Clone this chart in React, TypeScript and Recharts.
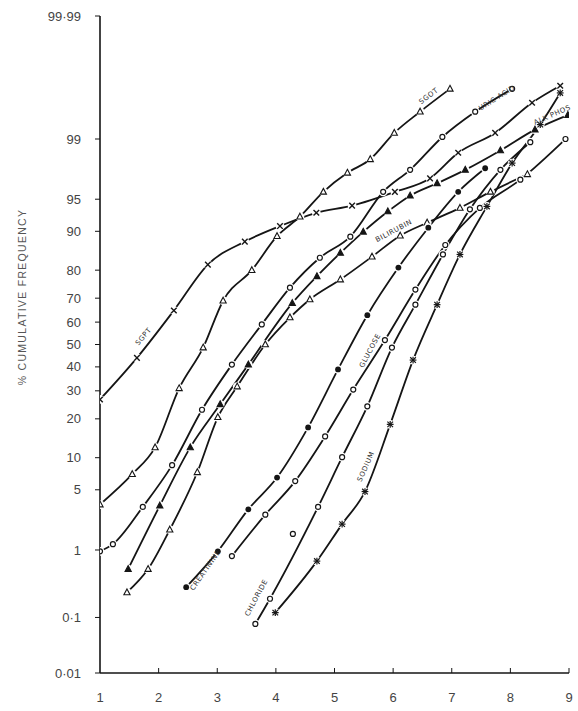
import { ComposedChart, Line, XAxis, YAxis, ReferenceDot } from "recharts";

// x value, % cumulative frequency
const SGPT = [[1.0, 26.7], [1.63, 44], [2.26, 65], [2.84, 81.7], [3.47, 87.8], [4.07, 91], [4.69, 93.2], [5.3, 94.2], [6.03, 95.8], [6.63, 97.0], [7.11, 98.5], [7.74, 99.17], [8.37, 99.69], [8.85, 99.83]];
const SGOT = [[1.0, 3.5], [1.55, 7.1], [1.94, 12.2], [2.35, 31], [2.76, 48.6], [3.1, 69], [3.59, 80], [4.02, 89], [4.41, 92.6], [4.81, 95.8], [5.22, 97.4], [5.61, 98.2], [6.02, 99.17], [6.46, 99.58], [6.97, 99.81]];
const URIC_ACID = [[1.0, 0.96], [1.22, 1.19], [1.73, 3.3], [2.23, 8.6], [2.74, 23], [3.25, 41], [3.76, 59], [4.24, 74], [4.75, 83.7], [5.27, 88.9], [5.83, 95.8], [6.29, 97.6], [6.84, 99.06], [7.4, 99.58], [8.03, 99.81]];
const ALK_PHOS = [[1.48, 0.55], [2.02, 3.4], [2.54, 12.2], [3.05, 24.9], [3.53, 41], [4.28, 68], [4.7, 78], [5.1, 85], [5.49, 89.9], [5.91, 93.4], [6.29, 95.4], [6.75, 96.6], [7.23, 97.6], [7.83, 98.6], [8.42, 99.25], [8.98, 99.53]];
const BILIRUBIN = [[1.46, 0.25], [1.82, 0.55], [2.19, 1.8], [2.66, 7.4], [3.01, 20.5], [3.34, 31.7], [3.82, 50], [4.24, 62], [4.58, 69.5], [5.1, 76.9], [5.64, 84], [6.12, 89.1], [6.58, 91.6], [7.14, 93.9], [7.66, 95.8], [8.29, 97.3]];
const CREATININE = [[2.47, 0.3], [3.01, 0.96], [3.53, 3.1], [4.02, 6.6], [4.55, 17.4], [5.06, 38.9], [5.56, 63], [6.09, 80.8], [6.6, 90.7], [7.11, 95.8], [7.57, 97.7]];
const GLUCOSE = [[3.25, 0.83], [3.82, 2.7], [4.33, 6.1], [4.84, 14.9], [5.32, 30.5], [5.86, 52], [6.38, 73.3], [6.89, 87], [7.48, 93.9], [8.17, 96.9], [8.94, 99.0]];
const CHLORIDE = [[3.65, 0.078], [3.9, 0.2], [4.72, 3.3], [5.13, 10.1], [5.56, 24.2], [5.98, 48.6], [6.38, 67.4], [6.85, 84.6], [7.31, 93.7], [7.83, 97.6], [8.34, 98.9]];
const SODIUM = [[3.99, 0.12], [4.7, 0.71], [5.13, 2.1], [5.52, 4.8], [5.95, 18.3], [6.34, 43], [6.75, 67.4], [7.14, 84.6], [7.6, 94.1], [8.03, 98.0], [8.51, 99.36], [8.85, 99.78]];
const STRAY_POINT = [[4.29, 1.6]];

const X_TICKS = [1, 2, 3, 4, 5, 6, 7, 8, 9];
const Y_TICKS = [0.01, 0.1, 1, 5, 10, 20, 30, 40, 50, 60, 70, 80, 90, 95, 99, 99.99];
const Y_TICK_LABELS = ["0·01", "0·1", "1", "5", "10", "20", "30", "40", "50", "60", "70", "80", "90", "95", "99", "99·99"];

const CURVES = [
  { name: "sgpt", data: SGPT, marker: "cross" },
  { name: "sgot", data: SGOT, marker: "tri" },
  { name: "uric", data: URIC_ACID, marker: "circle" },
  { name: "alk", data: ALK_PHOS, marker: "triFill" },
  { name: "bili", data: BILIRUBIN, marker: "tri" },
  { name: "creat", data: CREATININE, marker: "dot" },
  { name: "gluc", data: GLUCOSE, marker: "circle" },
  { name: "chlor", data: CHLORIDE, marker: "circle" },
  { name: "sodium", data: SODIUM, marker: "star" },
  { name: "stray", data: STRAY_POINT, marker: "circle" },
];

// curve labels: text, x value, %, rotation
const CURVE_LABELS = [
  { text: "SGPT", x: 1.77, p: 53, angle: -50 },
  { text: "SGOT", x: 6.63, p: 99.74, angle: -38 },
  { text: "URIC ACID", x: 7.79, p: 99.72, angle: -32 },
  { text: "ALK PHOS", x: 8.73, p: 99.5, angle: -24 },
  { text: "BILIRUBIN", x: 6.03, p: 89.7, angle: -28 },
  { text: "GLUCOSE", x: 5.64, p: 46.8, angle: -62 },
  { text: "SODIUM", x: 5.57, p: 8.2, angle: -66 },
  { text: "CHLORIDE", x: 3.7, p: 0.2, angle: -62 },
  { text: "CREATININE", x: 2.83, p: 0.51, angle: -55 },
];

// inverse normal CDF (Acklam) -> probability-paper scale
function probit(p: number): number {
  const a = [-39.69683028665376, 220.9460984245205, -275.9285104469687, 138.357751867269, -30.66479806614716, 2.506628277459239];
  const b = [-54.47609879822406, 161.5858368580409, -155.6989798598866, 66.80131188771972, -13.28068155288572];
  const c = [-0.007784894002430293, -0.3223964580411365, -2.400758277161838, -2.549732539343734, 4.374664141464968, 2.938163982698783];
  const d = [0.007784695709041462, 0.3224671290700398, 2.445134137142996, 3.754408661907416];
  const plow = 0.02425;
  if (p < plow) {
    const q = Math.sqrt(-2 * Math.log(p));
    return (((((c[0] * q + c[1]) * q + c[2]) * q + c[3]) * q + c[4]) * q + c[5]) / ((((d[0] * q + d[1]) * q + d[2]) * q + d[3]) * q + 1);
  }
  if (p <= 1 - plow) {
    const q = p - 0.5;
    const r = q * q;
    return ((((((a[0] * r + a[1]) * r + a[2]) * r + a[3]) * r + a[4]) * r + a[5]) * q) / (((((b[0] * r + b[1]) * r + b[2]) * r + b[3]) * r + b[4]) * r + 1);
  }
  const q = Math.sqrt(-2 * Math.log(1 - p));
  return -(((((c[0] * q + c[1]) * q + c[2]) * q + c[3]) * q + c[4]) * q + c[5]) / ((((d[0] * q + d[1]) * q + d[2]) * q + d[3]) * q + 1);
}

const Z_MIN = probit(0.0001);
const Z_MAX = probit(0.9999);
const Y_TICK_Z = Y_TICKS.map((p) => probit(p / 100));

const INK = "#151515";

function Marker({ cx, cy, kind }: { cx: number; cy: number; kind: string }) {
  if (cx == null || cy == null) return null;
  // white halo breaks the line around each marker, like the hand-drawn original
  const halo = <circle cx={cx} cy={cy} r={4.4} fill="#fff" stroke="none" />;
  switch (kind) {
    case "circle":
      return (
        <g>
          {halo}
          <circle cx={cx} cy={cy} r={2.5} fill="#fff" stroke={INK} strokeWidth={1.2} />
        </g>
      );
    case "dot":
      return (
        <g>
          {halo}
          <circle cx={cx} cy={cy} r={2.9} fill={INK} />
        </g>
      );
    case "tri":
    case "triFill":
      return (
        <g>
          {halo}
          <polygon
            points={`${cx},${cy - 3.5} ${cx + 3.1},${cy + 2.3} ${cx - 3.1},${cy + 2.3}`}
            fill={kind === "tri" ? "#fff" : INK}
            stroke={INK}
            strokeWidth={1.1}
          />
        </g>
      );
    case "cross":
      return (
        <g>
          {halo}
          <g stroke={INK} strokeWidth={1.4}>
            <line x1={cx - 2.8} y1={cy - 2.8} x2={cx + 2.8} y2={cy + 2.8} />
            <line x1={cx - 2.8} y1={cy + 2.8} x2={cx + 2.8} y2={cy - 2.8} />
          </g>
        </g>
      );
    default:
      return (
        <g>
          {halo}
          <g stroke={INK} strokeWidth={1.2}>
            <line x1={cx - 2.8} y1={cy - 2.8} x2={cx + 2.8} y2={cy + 2.8} />
            <line x1={cx - 2.8} y1={cy + 2.8} x2={cx + 2.8} y2={cy - 2.8} />
            <line x1={cx - 3.4} y1={cy} x2={cx + 3.4} y2={cy} />
            <line x1={cx} y1={cy - 3.4} x2={cx} y2={cy + 3.4} />
          </g>
        </g>
      );
  }
}

function XTick(props: any) {
  const { x, y, payload } = props;
  return (
    <g>
      {payload.value !== 1 && <line x1={x} y1={y - 2} x2={x} y2={y - 7} stroke={INK} strokeWidth={1} />}
      <text x={x} y={y + 27} textAnchor="middle" fontSize={13} fill="#444" fontFamily="Liberation Sans, Arial, sans-serif">
        {payload.value}
      </text>
    </g>
  );
}

function YTitle() {
  return (
    <text
      x={26}
      y={297}
      transform="rotate(-90 26 297)"
      textAnchor="middle"
      fontSize={10.5}
      letterSpacing={1.3}
      fill="#555"
      fontFamily="Liberation Sans, Arial, sans-serif"
    >
      % CUMULATIVE FREQUENCY
    </text>
  );
}

export default function App() {
  return (
    <div style={{ position: "absolute", left: 0, top: 0, width: 578, height: 711, background: "#fff" }}>
      <ComposedChart width={578} height={711} margin={{ top: 16, right: 9, bottom: 0, left: 0 }}>
        <XAxis
          type="number"
          dataKey="x"
          domain={[1, 9]}
          ticks={X_TICKS}
          interval={0}
          allowDataOverflow
          height={38}
          axisLine={{ stroke: INK, strokeWidth: 1.6 }}
          tickLine={false}
          tickSize={0}
          tick={<XTick />}
        />
        <YAxis
          type="number"
          domain={[Z_MIN, Z_MAX]}
          ticks={Y_TICK_Z}
          interval={0}
          allowDataOverflow
          width={100}
          axisLine={{ stroke: INK, strokeWidth: 1.6 }}
          tickLine={{ stroke: INK }}
          tickSize={5}
          tickMargin={14}
          tickFormatter={(_v: number, i: number) => Y_TICK_LABELS[i]}
          tick={{ fontSize: 13, fill: "#444", fontFamily: "Liberation Sans, Arial, sans-serif" }}
          label={<YTitle />}
        />
        {CURVES.map((c) => (
          <Line
            key={c.name}
            data={c.data.map(([x, p]) => ({ x, z: probit(p / 100) }))}
            dataKey="z"
            type="monotone"
            stroke={INK}
            strokeWidth={1.8}
            dot={(d: any) => <Marker key={`${c.name}-${d.index}`} cx={d.cx} cy={d.cy} kind={c.marker} />}
            activeDot={false}
            isAnimationActive={false}
          />
        ))}
        {CURVE_LABELS.map((l) => (
          <ReferenceDot
            key={l.text}
            x={l.x}
            y={probit(l.p / 100)}
            r={0}
            ifOverflow="visible"
            shape={(s: any) => (
              <text
                x={s.cx}
                y={s.cy}
                transform={`rotate(${l.angle} ${s.cx} ${s.cy})`}
                textAnchor="middle"
                fontSize={7}
                letterSpacing={0.6}
                fill="#333"
                fontFamily="DejaVu Sans, sans-serif"
              >
                {l.text}
              </text>
            )}
          />
        ))}
      </ComposedChart>
    </div>
  );
}
